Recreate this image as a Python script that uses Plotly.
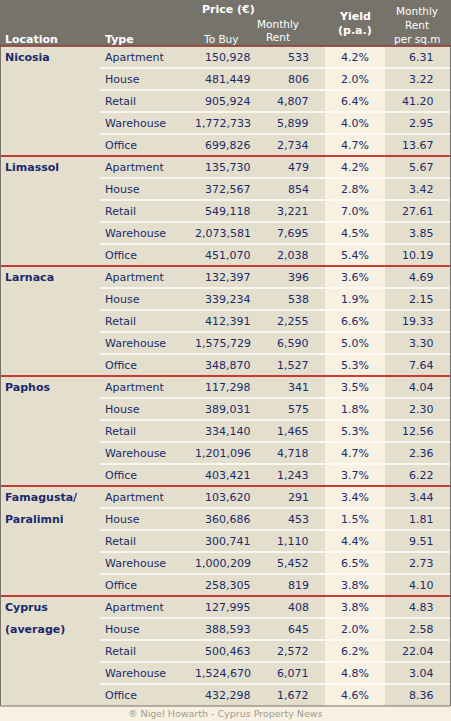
import plotly.graph_objects as go

locations = ["Nicosia", "Limassol", "Larnaca", "Paphos", "Famagusta/<br>Paralimni", "Cyprus<br>(average)"]
types = ["Apartment", "House", "Retail", "Warehouse", "Office"]
to_buy = [150928, 481449, 905924, 1772733, 699826,
          135730, 372567, 549118, 2073581, 451070,
          132397, 339234, 412391, 1575729, 348870,
          117298, 389031, 334140, 1201096, 403421,
          103620, 360686, 300741, 1000209, 258305,
          127995, 388593, 500463, 1524670, 432298]
rent = [533, 806, 4807, 5899, 2734,
        479, 854, 3221, 7695, 2038,
        396, 538, 2255, 6590, 1527,
        341, 575, 1465, 4718, 1243,
        291, 453, 1110, 5452, 819,
        408, 645, 2572, 6071, 1672]
yield_pa = [4.2, 2.0, 6.4, 4.0, 4.7,
            4.2, 2.8, 7.0, 4.5, 5.4,
            3.6, 1.9, 6.6, 5.0, 5.3,
            3.5, 1.8, 5.3, 4.7, 3.7,
            3.4, 1.5, 4.4, 6.5, 3.8,
            3.8, 2.0, 6.2, 4.8, 4.6]
per_sqm = [6.31, 3.22, 41.20, 2.95, 13.67,
           5.67, 3.42, 27.61, 3.85, 10.19,
           4.69, 2.15, 19.33, 3.30, 7.64,
           4.04, 2.30, 12.56, 2.36, 6.22,
           3.44, 1.81, 9.51, 2.73, 4.10,
           4.83, 2.58, 22.04, 3.04, 8.36]

W, H = 451, 721
top, rh = 46, 22
navy = "#1b2a6b"
font = "DejaVu Sans"

fig = go.Figure()
shapes = []
ann = []

def rect(x0, y0, x1, y1, color):
    shapes.append(dict(type="rect", x0=x0, y0=y0, x1=x1, y1=y1, fillcolor=color, line_width=0, layer="below"))

def line(x0, y0, x1, y1, color, w=1):
    shapes.append(dict(type="line", x0=x0, y0=y0, x1=x1, y1=y1, line=dict(color=color, width=w)))

def text(x, y, s, anchor="left", color=navy, bold=False, size=11):
    if bold:
        s = "<b>" + s + "</b>"
    ann.append(dict(x=x, y=y, text=s, xanchor=anchor, yanchor="middle", showarrow=False,
                    font=dict(family=font, size=size, color=color)))

bottom = top + rh * 30
rect(0, 0, W, H, "#f8f0e0")
rect(0, 0, W, top, "#75736a")
rect(0, top, W, bottom, "#e3dfcc")
rect(325, top, 385, bottom, "#f8f0e0")

# header
wh = "white"
text(228, 9, "Price (€)", "center", wh, True)
text(278, 24, "Monthly", "center", wh, size=10.5)
text(278, 37, "Rent", "center", wh, size=10.5)
text(220, 39, "To Buy", "center", wh, size=10.5)
text(355, 16, "Yield", "center", wh, True)
text(355, 30, "(p.a.)", "center", wh, True)
text(417, 11, "Monthly", "center", wh, size=10.5)
text(417, 25, "Rent", "center", wh, size=10.5)
text(417, 39, "per sq.m", "center", wh, size=10.5)
text(3, 39, "Location", "left", wh, True)
text(103, 39, "Type", "left", wh, True)

for i in range(30):
    yc = top + rh * i + rh / 2
    if i % 5 != 0:
        line(100, top + rh * i, W, top + rh * i, "white", 1.5)
    text(103, yc, types[i % 5])
    text(253, yc, f"{to_buy[i]:,}", "right")
    text(311, yc, f"{rent[i]:,}", "right")
    text(355, yc, f"{yield_pa[i]:.1f}%", "center")
    text(436, yc, f"{per_sqm[i]:.2f}", "right")

for g, loc in enumerate(locations):
    y0 = top + rh * 5 * g
    line(0, y0, W, y0, "#c00000", 1.5)
    parts = loc.split("<br>")
    for k, p in enumerate(parts):
        text(3, y0 + rh / 2 + k * rh, p, "left", navy, True)

shapes.append(dict(type="rect", x0=0.5, y0=top, x1=W - 0.5, y1=bottom, line=dict(color="#75736a", width=1)))
text(W / 2, 713, "® Nigel Howarth - Cyprus Property News", "center", "#a09c90", size=9.5)

fig.update_layout(
    width=W, height=H, margin=dict(l=0, r=0, t=0, b=0),
    paper_bgcolor="#f8f0e0", plot_bgcolor="#f8f0e0",
    xaxis=dict(range=[0, W], visible=False, fixedrange=True),
    yaxis=dict(range=[H, 0], visible=False, fixedrange=True),
    shapes=shapes, annotations=ann, showlegend=False,
)
fig.write_html("out.html", config={"displayModeBar": False},
               post_script="document.body.style.margin='0';document.body.style.overflow='hidden';")
